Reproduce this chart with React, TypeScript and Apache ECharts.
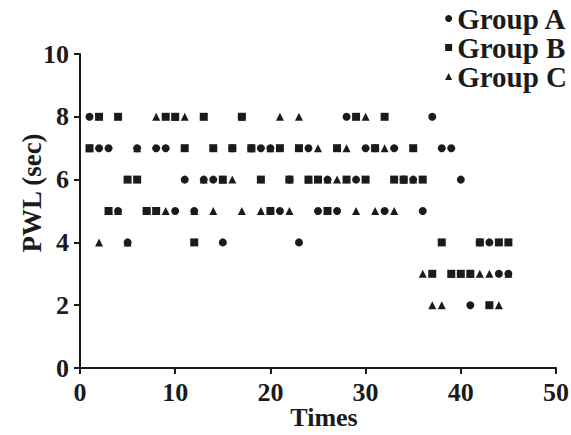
import React, { useEffect, useRef } from "react";
import * as echarts from "echarts";

const TIMES = [1, 2, 3, 4, 5, 6, 7, 8, 9, 10, 11, 12, 13, 14, 15, 16, 17, 18, 19, 20, 21, 22, 23, 24, 25, 26, 27, 28, 29, 30, 31, 32, 33, 34, 35, 36, 37, 38, 39, 40, 41, 42, 43, 44, 45];

const GROUP_A = [8, 7, 7, 5, 4, 7, 5, 7, 7, 5, 6, 5, 6, 6, 4, 7, 8, 7, 7, 7, 5, 6, 4, 7, 5, 6, 5, 8, 6, 7, 7, 5, 7, 6, 6, 5, 8, 7, 7, 6, 2, 4, 4, 3, 3];
const GROUP_B = [7, 8, 5, 8, 6, 6, 5, 5, 8, 8, 7, 4, 8, 7, 6, 7, 8, 7, 6, 5, 7, 6, 7, 6, 6, 5, 7, 6, 8, 6, 7, 8, 6, 6, 7, 6, 3, 4, 3, 3, 3, 4, 2, 4, 4];
const GROUP_C = [7, 4, 5, 5, 4, 7, 5, 8, 5, 8, 8, 5, 6, 5, 6, 6, 5, 7, 5, 7, 8, 5, 8, 6, 7, 6, 6, 7, 5, 8, 5, 7, 5, 6, 6, 3, 2, 2, 3, 3, 3, 3, 3, 2, 3];

const GROUP_NAMES = ["Group A", "Group B", "Group C"];
const X_TICKS = [0, 10, 20, 30, 40, 50];
const Y_TICKS = [0, 2, 4, 6, 8, 10];

const INK = "#1b1b1b";
const FONT = "'Liberation Serif', 'Times New Roman', serif";

const pairs = (vals: number[]) => TIMES.map((t, i) => [t, vals[i]]);

export default function App() {
  const ref = useRef<HTMLDivElement>(null);
  useEffect(() => {
    if (!ref.current) return;
    const chart = echarts.init(ref.current, null, { renderer: "svg" });
    const axisCommon = {
      axisLine: { show: true, lineStyle: { color: INK, width: 2 } },
      axisTick: { show: true, inside: false, length: 6, lineStyle: { color: INK, width: 2 } },
      splitLine: { show: false },
      nameMoveOverlap: false,
    };
    const nameStyle = { fontFamily: FONT, fontWeight: "bold", fontSize: 26, color: INK };
    const labelStyle = { fontFamily: FONT, fontWeight: "bold", fontSize: 26, color: INK };
    chart.setOption({
      animation: false,
      backgroundColor: "#ffffff",
      grid: {
        left: 80,
        right: 15,
        top: 54,
        bottom: 67,
        containLabel: false,
        outerBoundsMode: "none",
      },
      legend: {
        orient: "vertical",
        right: 0,
        top: 0,
        padding: [4, 4, 0, 0],
        itemWidth: 7,
        itemHeight: 7,
        itemGap: 0,
        data: [
          { name: GROUP_NAMES[0], icon: "circle" },
          { name: GROUP_NAMES[1], icon: "rect" },
          { name: GROUP_NAMES[2], icon: "triangle" },
        ],
        textStyle: { fontFamily: FONT, fontWeight: "bold", fontSize: 29, color: INK },
      },
      xAxis: {
        type: "value",
        min: X_TICKS[0],
        max: X_TICKS[X_TICKS.length - 1],
        interval: 10,
        name: "Times",
        nameLocation: "middle",
        nameGap: 36,
        nameTextStyle: { ...nameStyle, padding: [0, 0, 0, 12] },
        ...axisCommon,
        axisLabel: { ...labelStyle, margin: 11 },
      },
      yAxis: {
        type: "value",
        min: Y_TICKS[0],
        max: Y_TICKS[Y_TICKS.length - 1],
        interval: 2,
        name: "PWL (sec)",
        nameLocation: "middle",
        nameGap: 35,
        nameTextStyle: { ...nameStyle, fontSize: 27, padding: [0, 0, 0, 36] },
        ...axisCommon,
        axisLabel: { ...labelStyle, margin: 11 },
      },
      series: [
        {
          name: GROUP_NAMES[2],
          type: "scatter",
          symbol: "triangle",
          symbolSize: 8,
          itemStyle: { color: INK, opacity: 1 },
          data: pairs(GROUP_C),
        },
        {
          name: GROUP_NAMES[0],
          type: "scatter",
          symbol: "circle",
          symbolSize: 8,
          itemStyle: { color: INK, opacity: 1 },
          data: pairs(GROUP_A),
        },
        {
          name: GROUP_NAMES[1],
          type: "scatter",
          symbol: "rect",
          symbolSize: 8,
          itemStyle: { color: INK, opacity: 1 },
          data: pairs(GROUP_B),
        },
      ],
    });
    return () => chart.dispose();
  }, []);
  return (
    <div
      ref={ref}
      style={{ position: "absolute", left: 0, top: 0, width: 571, height: 435 }}
    />
  );
}
